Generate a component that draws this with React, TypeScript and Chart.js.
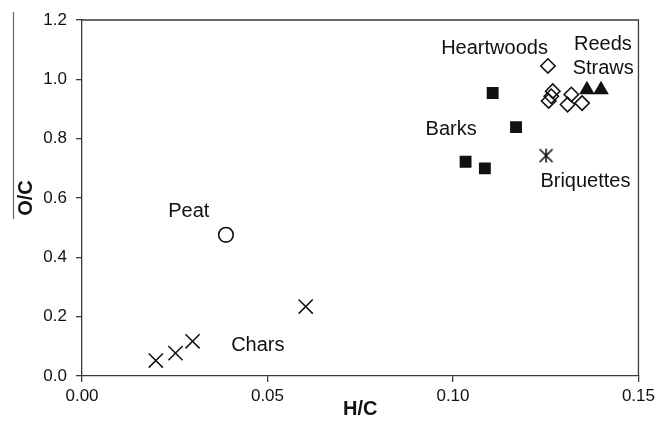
import React, { useEffect, useRef } from "react";
import { Chart, registerables } from "chart.js";

Chart.register(...registerables);

// ---- data (H/C on x, O/C on y) ----
const charsHC = [0.0199, 0.0252, 0.0298, 0.0603];
const charsOC = [0.052, 0.077, 0.117, 0.234];
const peatHC = [0.0388];
const peatOC = [0.476];
const barksHC = [0.1107, 0.117, 0.1034, 0.1086];
const barksOC = [0.954, 0.839, 0.722, 0.7];
const woodsHC = [0.1256, 0.1269, 0.1265, 0.1258, 0.1319, 0.1309, 0.1348];
const woodsOC = [1.045, 0.96, 0.943, 0.927, 0.949, 0.915, 0.92];
const strawsHC = [0.1361, 0.1399];
const strawsOC = [0.965, 0.965];
const briqHC = [0.1251];
const briqOC = [0.743];

const xTicks = [0, 0.05, 0.1, 0.15];
const yTicks = [0, 0.2, 0.4, 0.6, 0.8, 1.0, 1.2];

const labelNames = ["Heartwoods", "Reeds", "Straws", "Barks", "Briquettes", "Peat", "Chars"];
const labelHC = [0.1112, 0.1404, 0.1405, 0.0995, 0.1357, 0.0288, 0.0474];
const labelOC = [1.105, 1.117, 1.038, 0.831, 0.655, 0.553, 0.103];

const FONT = '"Liberation Sans", Arial, sans-serif';
const AXIS = "#3a3a3a";
const INK = "#111111";

const pts = (xs: number[], ys: number[]) => xs.map((x, i) => ({ x, y: ys[i] }));

function makeAsterisk(): HTMLCanvasElement {
  const c = document.createElement("canvas");
  c.width = 18;
  c.height = 18;
  const g = c.getContext("2d")!;
  g.strokeStyle = INK;
  g.lineWidth = 1.6;
  const cx = 9, cy = 9, a = 6.5;
  g.beginPath();
  g.moveTo(cx - a, cy - a);
  g.lineTo(cx + a, cy + a);
  g.moveTo(cx + a, cy - a);
  g.lineTo(cx - a, cy + a);
  g.moveTo(cx, cy - a - 0.5);
  g.lineTo(cx, cy + a + 0.5);
  g.stroke();
  return c;
}

const labelsPlugin = {
  id: "textLabels",
  afterDatasetsDraw(chart: any) {
    const { ctx, scales } = chart;
    ctx.save();
    ctx.font = `20px ${FONT}`;
    ctx.fillStyle = INK;
    ctx.textAlign = "center";
    ctx.textBaseline = "middle";
    labelNames.forEach((t, i) => {
      ctx.fillText(t, scales.x.getPixelForValue(labelHC[i]), scales.y.getPixelForValue(labelOC[i]));
    });
    ctx.restore();
  },
};

const framePlugin = {
  id: "frame",
  afterDraw(chart: any) {
    const { ctx, chartArea } = chart;
    ctx.save();
    ctx.strokeStyle = AXIS;
    ctx.lineWidth = 1.3;
    ctx.beginPath();
    ctx.moveTo(chartArea.left, chartArea.top);
    ctx.lineTo(chartArea.right, chartArea.top);
    ctx.lineTo(chartArea.right, chartArea.bottom);
    ctx.stroke();
    // stray vertical line at the left edge of the source figure
    ctx.strokeStyle = "#666666";
    ctx.lineWidth = 1.2;
    ctx.beginPath();
    ctx.moveTo(13.5, 12);
    ctx.lineTo(13.5, 219);
    ctx.stroke();
    ctx.restore();
  },
};

export default function App() {
  const ref = useRef<HTMLCanvasElement | null>(null);

  useEffect(() => {
    if (!ref.current) return;
    const chart = new Chart(ref.current, {
      type: "scatter",
      data: {
        datasets: [
          {
            label: "Chars",
            data: pts(charsHC, charsOC),
            pointStyle: "crossRot",
            pointRadius: 10,
            borderColor: INK,
            borderWidth: 1.5,
            backgroundColor: INK,
          },
          {
            label: "Peat",
            data: pts(peatHC, peatOC),
            pointStyle: "circle",
            pointRadius: 7.3,
            borderColor: INK,
            borderWidth: 1.6,
            backgroundColor: "rgba(255,255,255,0)",
          },
          {
            label: "Barks",
            data: pts(barksHC, barksOC),
            pointStyle: "rect",
            pointRadius: 8.4,
            borderColor: INK,
            borderWidth: 0,
            backgroundColor: INK,
          },
          {
            label: "Heartwoods",
            data: pts(woodsHC, woodsOC),
            pointStyle: "rectRot",
            pointRadius: 7.2,
            borderColor: INK,
            borderWidth: 1.6,
            backgroundColor: "rgba(255,255,255,0)",
          },
          {
            label: "Reeds/Straws",
            data: pts(strawsHC, strawsOC),
            pointStyle: "triangle",
            pointRadius: 9,
            borderColor: INK,
            borderWidth: 0,
            backgroundColor: INK,
          },
          {
            label: "Briquettes",
            data: pts(briqHC, briqOC),
            pointStyle: makeAsterisk() as any,
            pointRadius: 8,
            borderColor: INK,
            backgroundColor: INK,
          },
        ],
      },
      options: {
        responsive: false,
        animation: false,
        layout: { padding: { top: 20, right: 20, left: 0, bottom: 0 } },
        plugins: { legend: { display: false }, tooltip: { enabled: false } },
        scales: {
          x: {
            type: "linear",
            min: 0,
            max: 0.15,
            afterBuildTicks: (axis: any) => {
              axis.ticks = xTicks.map((v) => ({ value: v }));
            },
            afterFit: (s: any) => {
              s.height = 52;
            },
            ticks: {
              callback: (v: any) => Number(v).toFixed(2),
              font: { family: FONT, size: 17 },
              color: INK,
              padding: 4,
              maxRotation: 0,
            },
            grid: { drawOnChartArea: false, drawTicks: true, tickLength: 6, color: AXIS, lineWidth: 1.3 },
            border: { display: true, color: AXIS, width: 1.3 },
            title: {
              display: true,
              text: "H/C",
              color: INK,
              font: { family: FONT, size: 20, weight: "bold" },
              padding: { top: 0, bottom: 7 },
            },
          },
          y: {
            type: "linear",
            min: 0,
            max: 1.2,
            afterBuildTicks: (axis: any) => {
              axis.ticks = yTicks.map((v) => ({ value: v }));
            },
            afterFit: (s: any) => {
              s.width = 82;
            },
            ticks: {
              callback: (v: any) => Number(v).toFixed(1),
              font: { family: FONT, size: 17 },
              color: INK,
              padding: 9,
            },
            grid: { drawOnChartArea: false, drawTicks: true, tickLength: 6, color: AXIS, lineWidth: 1.3 },
            border: { display: true, color: AXIS, width: 1.3 },
            title: {
              display: true,
              text: "O/C",
              color: INK,
              font: { family: FONT, size: 20, weight: "bold" },
              padding: { top: 14, bottom: 0 },
            },
          },
        },
      },
      plugins: [labelsPlugin, framePlugin],
    });
    return () => chart.destroy();
  }, []);

  return (
    <div style={{ position: "absolute", left: 0, top: 0, width: 659, height: 428, background: "#fff" }}>
      <canvas ref={ref} width={659} height={428} style={{ display: "block" }} />
    </div>
  );
}
